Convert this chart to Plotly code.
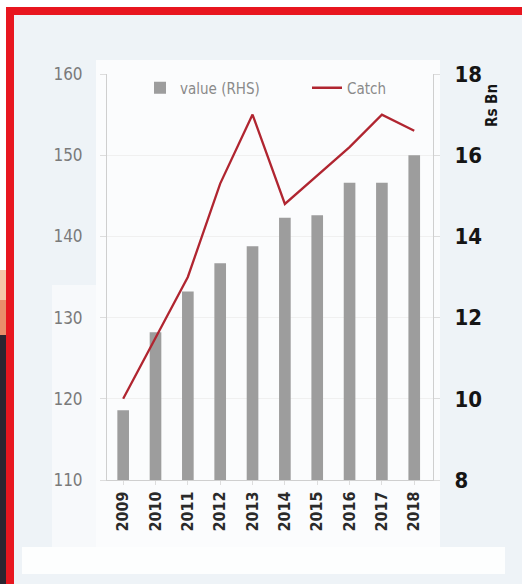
import plotly.graph_objects as go

years = ["2009", "2010", "2011", "2012", "2013", "2014", "2015", "2016", "2017", "2018"]
value_rhs = [118.6, 128.2, 133.2, 136.7, 138.8, 142.3, 142.6, 146.6, 146.6, 150.0]
catch = [10.0, 11.5, 13.0, 15.3, 17.0, 14.8, 15.5, 16.2, 17.0, 16.6]
left_ticks = [110, 120, 130, 140, 150, 160]
right_ticks = [8, 10, 12, 14, 16, 18]

W, H = 522, 584
L, R, T, B = 107, 89, 74, 104
PW, PH = W - L - R, H - T - B

def px(x):
    return (x - L) / PW

def py(y):
    return (H - B - y) / PH

NARROW = "Liberation Sans Narrow, DejaVu Sans Condensed, Arial Narrow, sans-serif"
COND = "DejaVu Sans Condensed, Liberation Sans Narrow, sans-serif"

fig = go.Figure()
fig.add_trace(go.Bar(
    x=years, y=value_rhs, name="value (RHS)",
    marker=dict(color="#9d9d9d", line=dict(width=0)),
    width=0.36, yaxis="y", legend="legend",
))
fig.add_trace(go.Scatter(
    x=years, y=catch, name="Catch", mode="lines",
    line=dict(color="#b02530", width=2.3), yaxis="y2", legend="legend2",
))

def rect(x0, y0, x1, y1, color):
    return dict(type="rect", xref="paper", yref="paper",
                x0=px(x0), x1=px(x1), y0=py(y1), y1=py(y0),
                fillcolor=color, line=dict(width=0), layer="below")

shapes = [
    rect(0, 0, 6, 270, "#ffffff"),
    rect(0, 270, 6, 300, "#f6c7a8"),
    rect(0, 300, 6, 335, "#e98d6a"),
    rect(0, 335, 6, 584, "#2c2530"),
    rect(6, 0, 522, 7, "#ffffff"),
    rect(52, 285, 96, 547, "#f7f9fb"),
    rect(96, 60, 440, 547, "#fbfcfd"),
    rect(22, 547, 505, 574, "#fdfefe"),
    rect(6, 7, 522, 15, "#e8161f"),
    rect(6, 7, 14, 584, "#e8161f"),
]

legend_font = dict(family=NARROW, size=15, color="#8a8a8a")

fig.update_layout(
    width=W, height=H,
    margin=dict(l=L, r=R, t=T, b=B),
    paper_bgcolor="#eef3f7",
    plot_bgcolor="#fdfefe",
    showlegend=True,
    legend=dict(
        orientation="h", x=px(140), y=py(88), xanchor="left", yanchor="middle",
        bgcolor="rgba(0,0,0,0)", font=legend_font, itemwidth=30,
    ),
    legend2=dict(
        orientation="h", x=px(307), y=py(88), xanchor="left", yanchor="middle",
        bgcolor="rgba(0,0,0,0)", font=legend_font, itemwidth=30,
    ),
    xaxis=dict(
        type="category", range=[-0.5, 9.58],
        tickangle=-90, tickfont=dict(family=COND, size=16, color="#2a2a2a", weight="bold"),
        showline=True, linecolor="#cfcfcf", linewidth=1,
        ticks="outside", ticklen=4, tickcolor="#dddddd",
        showgrid=False, zeroline=False,
    ),
    yaxis=dict(
        range=[110, 160], tickvals=left_ticks,
        tickfont=dict(family=NARROW, size=17, color="#7a7a7a"),
        showline=True, linecolor="#cfcfcf", linewidth=1,
        ticks="outside", ticklen=6, tickcolor="#dddddd",
        ticklabelstandoff=14,
        showgrid=True, gridcolor="#f0f0f0", zeroline=False,
    ),
    yaxis2=dict(
        range=[8, 18], tickvals=right_ticks, overlaying="y", side="right",
        tickfont=dict(family=COND, size=22, color="#151515", weight="bold"),
        showline=True, linecolor="#cfcfcf", linewidth=1,
        ticks="outside", ticklen=6, tickcolor="#dddddd",
        ticklabelstandoff=10,
        showgrid=False, zeroline=False,
    ),
    shapes=shapes,
    annotations=[dict(
        text="Rs Bn", textangle=-90, xref="paper", yref="paper",
        x=px(492), y=py(106), xanchor="center", yanchor="middle",
        showarrow=False, font=dict(family=COND, size=15, color="#151515", weight="bold"),
    )],
)

fig.write_html("out.html", config={"displayModeBar": False},
               post_script="document.body.style.margin='0';")
